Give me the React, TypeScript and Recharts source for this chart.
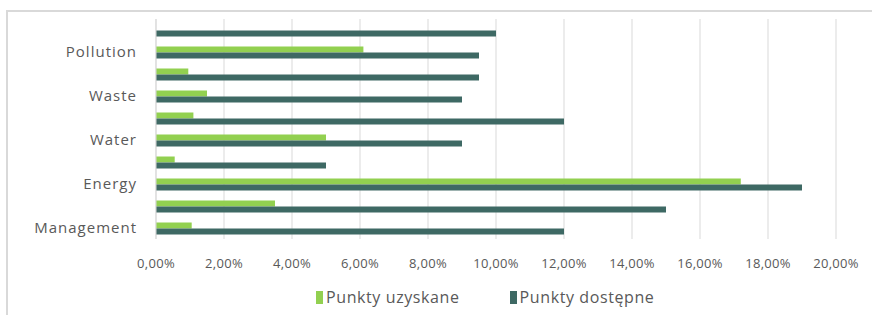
import { BarChart, Bar, XAxis, YAxis, CartesianGrid, Legend } from 'recharts';

// bottom to top, as in the picture
const categories = [
  'Management',
  'Health & Wellbeing',
  'Energy',
  'Transport',
  'Water',
  'Materials',
  'Waste',
  'Land Use & Ecology',
  'Pollution',
  'Innovation',
];
const punktyUzyskane = [1.05, 3.5, 17.2, 0.55, 5.0, 1.1, 1.5, 0.95, 6.1, 0];
const punktyDostepne = [12, 15, 19, 5, 9, 12, 9, 9.5, 9.5, 10];
const xTicks = [0, 2, 4, 6, 8, 10, 12, 14, 16, 18, 20];
const seriesNames = ['Punkty uzyskane', 'Punkty dostępne'];

const GREEN = '#92d050';
const DARK = '#3e6964';
const TEXT = '#595959';
const FONT = '"Open Sans", "Liberation Sans", sans-serif';

const data = categories.map((name, i) => ({
  name,
  uzyskane: punktyUzyskane[i],
  dostepne: punktyDostepne[i],
}));

const fmtPct = (v: number) => `${v.toFixed(2).replace('.', ',')}%`;

const LegendContent = (props: any) => {
  const items = [...(props.payload || [])].sort(
    (a: any, b: any) => seriesNames.indexOf(a.value) - seriesNames.indexOf(b.value)
  );
  return (
    <div style={{ display: 'flex', alignItems: 'center', height: 24, fontFamily: FONT, fontSize: 16, letterSpacing: 0.6, color: TEXT }}>
      {items.map((it: any, i: number) => (
        <div key={i} style={{ display: 'flex', alignItems: 'center', marginRight: 50 }}>
          <span style={{ display: 'inline-block', width: 7, height: 13, background: it.color, marginRight: 3 }} />
          <span>{it.value}</span>
        </div>
      ))}
    </div>
  );
};

export default function App() {
  return (
    <div style={{ position: 'relative', width: 872, height: 315, background: '#fff' }}>
      <style>{`body{margin:0}`}</style>
      <div
        style={{
          position: 'absolute',
          left: 6,
          top: 10,
          right: 0,
          bottom: 0,
          borderLeft: '2px solid #d9d9d9',
          borderTop: '2px solid #d9d9d9',
        }}
      />
      <BarChart
        width={872}
        height={315}
        data={data}
        layout="vertical"
        margin={{ top: 19, right: 36, bottom: 6, left: 0 }}
        barCategoryGap="25%"
        barGap={0}
      >
        <CartesianGrid horizontal={false} stroke="#d9d9d9" />
        <XAxis
          type="number"
          domain={[0, 20]}
          ticks={xTicks}
          tickFormatter={fmtPct}
          axisLine={false}
          tickLine={false}
          tickSize={0}
          tickMargin={20}
          height={46}
          tick={{ fill: TEXT, fontSize: 13, fontFamily: FONT, letterSpacing: 0.3 }}
        />
        <YAxis
          type="category"
          dataKey="name"
          reversed
          interval={1}
          width={156}
          axisLine={{ stroke: '#d9d9d9' }}
          tickLine={false}
          tickSize={0}
          tickMargin={19}
          tick={{ fill: TEXT, fontSize: 15, fontFamily: FONT, letterSpacing: 1 }}
        />
        <Legend
          verticalAlign="bottom"
          content={<LegendContent />}
          wrapperStyle={{ left: 316, width: 420 }}
        />
        <Bar dataKey="uzyskane" name={seriesNames[0]} fill={GREEN} isAnimationActive={false} />
        <Bar dataKey="dostepne" name={seriesNames[1]} fill={DARK} isAnimationActive={false} />
      </BarChart>
    </div>
  );
}
